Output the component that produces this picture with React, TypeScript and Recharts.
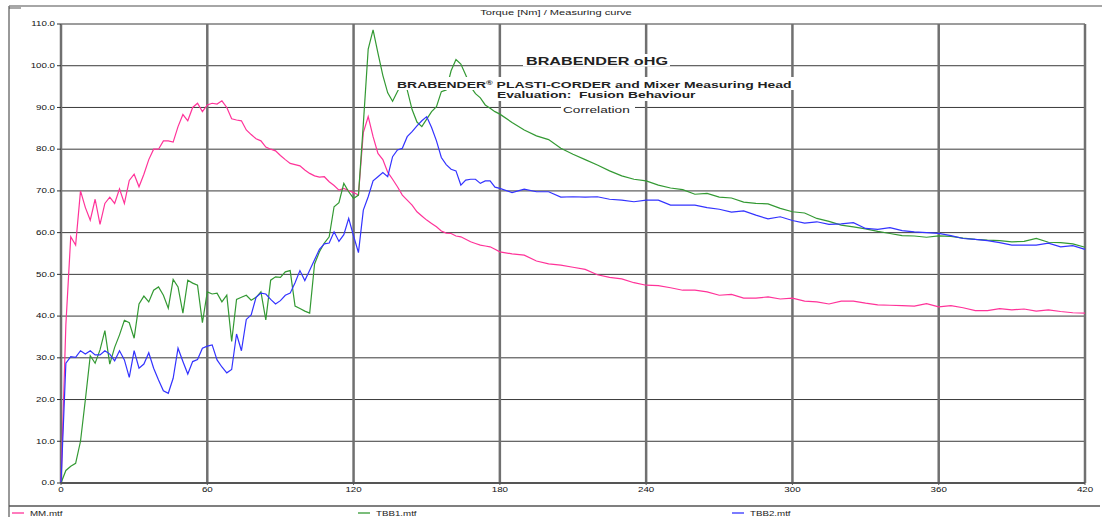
import React from 'react';
import { LineChart, Line, XAxis, YAxis, CartesianGrid } from 'recharts';

// measuring time in seconds (2 s steps while the curves move fast, 5 s afterwards)
const timeSec = [
  0, 2, 4, 6, 8, 10, 12, 14, 16, 18,
  20, 22, 24, 26, 28, 30, 32, 34, 36, 38,
  40, 42, 44, 46, 48, 50, 52, 54, 56, 58,
  60, 62, 64, 66, 68, 70, 72, 74, 76, 78,
  80, 82, 84, 86, 88, 90, 92, 94, 96, 98,
  100, 102, 104, 106, 108, 110, 112, 114, 116, 118,
  120, 122, 124, 126, 128, 130, 132, 134, 136, 138,
  140, 142, 144, 146, 148, 150, 152, 154, 156, 158,
  160, 162, 164, 166, 168, 170, 172, 174, 176, 178,
  180,
  185, 190, 195, 200, 205, 210, 215, 220, 225, 230,
  235, 240, 245, 250, 255, 260, 265, 270, 275, 280,
  285, 290, 295, 300, 305, 310, 315, 320, 325, 330,
  335, 340, 345, 350, 355, 360, 365, 370, 375, 380,
  385, 390, 395, 400, 405, 410, 415, 420,
];

// torque [Nm]
const mmTorque = [
  0, 38, 59, 57, 70, 66, 63, 68, 62, 67,
  68.5, 67, 70.5, 67, 72.5, 74, 71, 74, 77.5, 80,
  80, 82, 82, 81.7, 85.4, 88.3, 86.8, 90, 91, 89,
  90.6, 91, 90.8, 91.6, 90, 87.3, 87, 86.8, 84.6, 83.5,
  82.5, 82, 80.5, 80, 79.6, 78.5, 77.5, 76.6, 76.3, 76,
  75, 74.2, 73.6, 73.3, 73.4, 72.2, 71.3, 70.2, 70.6, 70.1,
  69.6, 69, 84, 87.8, 83, 79, 77.5, 74.5, 72.8, 71,
  69, 67.8, 66.6, 65, 64, 63, 62.2, 61.4, 60.4, 59.9,
  59.8, 59.2, 59, 58.4, 57.8, 57.4, 57, 56.8, 56.6, 56,
  55.4,
  54.9, 54.6, 53.2, 52.5, 52.2, 51.7, 51.2, 49.9, 49.3, 48.9,
  48, 47.4, 47.3, 46.8, 46.2, 46.2, 45.8, 45, 45.2, 44.3,
  44.3, 44.6, 44.1, 44.3, 43.6, 43.4, 42.9, 43.6, 43.6, 43.1,
  42.7, 42.6, 42.5, 42.4, 43, 42.2, 42.5, 42, 41.3, 41.3,
  41.8, 41.5, 41.7, 41.2, 41.5, 41.1, 40.8, 40.7,
];

const tbb1Torque = [
  0, 3, 4, 4.7, 10, 20, 30.5, 28.7, 31.9, 36.5,
  28.5, 32.5, 35.5, 39, 38.4, 34.7, 42.9, 44.8, 43.4, 46.2,
  47, 45, 41.9, 48.8, 47, 40.7, 48.6, 47.9, 47.4, 38.4,
  45.8, 45.3, 45.5, 43.4, 45, 33.9, 44, 44.5, 45, 43.8,
  44.5, 45.8, 39.1, 48.6, 49.4, 49.3, 50.6, 50.9, 42.4, 41.8,
  41.2, 40.7, 52.5, 55.4, 57.5, 59, 66.2, 67.2, 71.8, 69.8,
  68.2, 69, 86, 104, 108.6, 103, 97.7, 93.5, 91.5, 93.8,
  96, 94.2, 89.5, 86.5, 85.4, 87.2, 89, 90.2, 93.8, 94.2,
  98.8, 101.5, 100.4, 97.8, 95, 93.3, 92.3, 90.6, 89.8, 89,
  88.4,
  86.4, 84.6, 83.2, 82.3, 80.2, 78.8, 77.5, 76.2, 74.8, 73.6,
  72.8, 72.4, 71.4, 70.7, 70.3, 69.2, 69.4, 68.5, 68.3, 67.3,
  67, 66.9, 65.8, 65, 64.7, 63.4, 62.7, 61.8, 61.4, 60.9,
  60.3, 59.8, 59.3, 59.2, 58.9, 59.2, 59.1, 58.7, 58.4, 58.2,
  58.1, 57.8, 57.9, 58.6, 57.7, 57.6, 57.3, 56.5,
];

const tbb2Torque = [
  0, 28.7, 30.3, 30.1, 31.7, 30.9, 31.7, 30.7, 30.7, 31.7,
  30.9, 29.3, 31.7, 29.5, 25.3, 31.7, 27.5, 28.5, 31.2, 27.5,
  24.7, 22.1, 21.5, 25.1, 32.3, 29.1, 26.1, 29.1, 29.6, 32.3,
  32.8, 33.1, 29.5, 27.8, 26.4, 27.2, 35.7, 31.7, 39.2, 40.3,
  44.5, 45.5, 45.3, 44, 42.9, 43.7, 45, 45.5, 48, 50.9,
  48.5, 51, 53.5, 56, 57.3, 57.5, 60.2, 57.9, 59.5, 63.4,
  59.2, 55.2, 65.4, 68.6, 72.4, 73.4, 74.4, 73.4, 78.2, 79.8,
  80.2, 83, 84.2, 85.6, 86.8, 87.8, 85.2, 82, 78, 76.3,
  75.2, 74.8, 71.4, 72.6, 72.8, 72.8, 71.8, 72.4, 72.4, 70.9,
  70.6,
  69.6, 70.4, 69.8, 69.8, 68.5, 68.6, 68.5, 68.6, 68, 67.8,
  67.4, 67.8, 67.8, 66.6, 66.6, 66.6, 66, 65.6, 64.9, 65.2,
  64.2, 63.3, 63.8, 62.9, 62.3, 62.6, 62, 62.1, 62.4, 61,
  60.8, 61.2, 60.5, 60.2, 60, 59.8, 59.3, 58.6, 58.4, 58.1,
  57.6, 57, 57, 57, 57.5, 56.6, 56.9, 56,
];

const xTicks = [0, 60, 120, 180, 240, 300, 360, 420];
const yTicks = [0, 10, 20, 30, 40, 50, 60, 70, 80, 90, 100, 110];

const rows = timeSec.map((t, i) => ({
  t,
  mm: mmTorque[i],
  tbb1: tbb1Torque[i],
  tbb2: tbb2Torque[i],
}));

const FONT = '"Liberation Sans", Arial, sans-serif';
const SX = 1.5; // the original print is stretched sideways

const YTick = (props: any) => (
  <g transform={`translate(${props.x},${props.y})`}>
    <text transform={`scale(${SX},1)`} textAnchor="end" dy="0.35em" fontSize={6.5} fill="#111" fontFamily={FONT}>
      {Number(props.payload.value).toFixed(1)}
    </text>
  </g>
);

const XTick = (props: any) => (
  <g transform={`translate(${props.x},${props.y})`}>
    <text transform={`scale(${SX},1)`} textAnchor="middle" dy="0.71em" fontSize={6.5} fill="#111" fontFamily={FONT}>
      {props.payload.value}
    </text>
  </g>
);

const Txt = ({ x, y, size, bold, anchor, children }: any) => (
  <text
    transform={`translate(${x},${y}) scale(${SX},1)`}
    fontSize={size}
    fontWeight={bold ? 'bold' : 'normal'}
    textAnchor={anchor || 'start'}
    fill="#222"
    fontFamily={FONT}
  >
    {children}
  </text>
);

const legendItems = [
  { name: 'MM.mtf', color: '#ff3399', x: 12 },
  { name: 'TBB1.mtf', color: '#339933', x: 358 },
  { name: 'TBB2.mtf', color: '#3333ff', x: 732 },
];

export default function App() {
  return (
    <div style={{ position: 'absolute', left: 0, top: 0, width: 1102, height: 517, background: '#fff', fontFamily: FONT }}>
      <LineChart width={1102} height={517} data={rows} margin={{ top: 24, right: 17, bottom: 14, left: 11 }}>
        <CartesianGrid vertical={false} stroke="#3a3a3a" strokeWidth={1} />
        <CartesianGrid horizontal={false} stroke="#707070" strokeWidth={2.5} />
        <XAxis
          dataKey="t"
          type="number"
          domain={[0, 420]}
          ticks={xTicks}
          height={20}
          tickSize={2}
          tickMargin={2}
          axisLine={{ stroke: '#555', strokeWidth: 2 }}
          tickLine={{ stroke: '#555' }}
          tick={<XTick />}
        />
        <YAxis
          type="number"
          domain={[0, 110]}
          ticks={yTicks}
          width={50}
          tickSize={4}
          tickMargin={2}
          axisLine={false}
          tickLine={{ stroke: '#333' }}
          tick={<YTick />}
        />
        <Line dataKey="mm" stroke="#ff3399" strokeWidth={1.2} dot={false} isAnimationActive={false} />
        <Line dataKey="tbb1" stroke="#339933" strokeWidth={1.2} dot={false} isAnimationActive={false} />
        <Line dataKey="tbb2" stroke="#3333ff" strokeWidth={1.2} dot={false} isAnimationActive={false} />
      </LineChart>

      <svg width={1102} height={517} style={{ position: 'absolute', left: 0, top: 0, pointerEvents: 'none' }}>
        {/* frame */}
        <line x1={9} y1={6} x2={1102} y2={6} stroke="#888" strokeWidth={1.5} />
        <line x1={9} y1={6} x2={9} y2={517} stroke="#777" strokeWidth={1.5} />
        <line x1={9} y1={506} x2={1100} y2={506} stroke="#555" strokeWidth={1.5} />
        <line x1={9} y1={8} x2={21} y2={8} stroke="#555" strokeWidth={1} />

        <Txt x={556} y={15} size={7.4} anchor="middle">Torque [Nm] / Measuring curve</Txt>

        {/* header block with white boxes */}
        <rect x={523} y={54} width={147} height={12.5} fill="#fff" />
        <rect x={396} y={77} width={399} height={13} fill="#fff" />
        <rect x={495} y={89} width={203} height={12} fill="#fff" />
        <rect x={561} y={102} width={74} height={13} fill="#fff" />
        <Txt x={526} y={65} size={10.8} bold>BRABENDER oHG</Txt>
        <Txt x={397} y={88} size={9.3} bold>
          BRABENDER<tspan fontSize="0.65em" dy="-0.5em">®</tspan>
          <tspan dy="0.325em"> PLASTI-CORDER and Mixer Measuring Head</tspan>
        </Txt>
        <Txt x={497} y={98} size={9.2} bold>{'Evaluation:\u00a0 Fusion Behaviour'}</Txt>
        <Txt x={563} y={113} size={9.1}>Correlation</Txt>

        {/* legend */}
        {legendItems.map((it) => (
          <g key={it.name}>
            <line x1={it.x} y1={513} x2={it.x + 12} y2={513} stroke={it.color} strokeWidth={1.3} />
            <Txt x={it.x + 18} y={515.5} size={6.5}>{it.name}</Txt>
          </g>
        ))}
      </svg>
    </div>
  );
}
